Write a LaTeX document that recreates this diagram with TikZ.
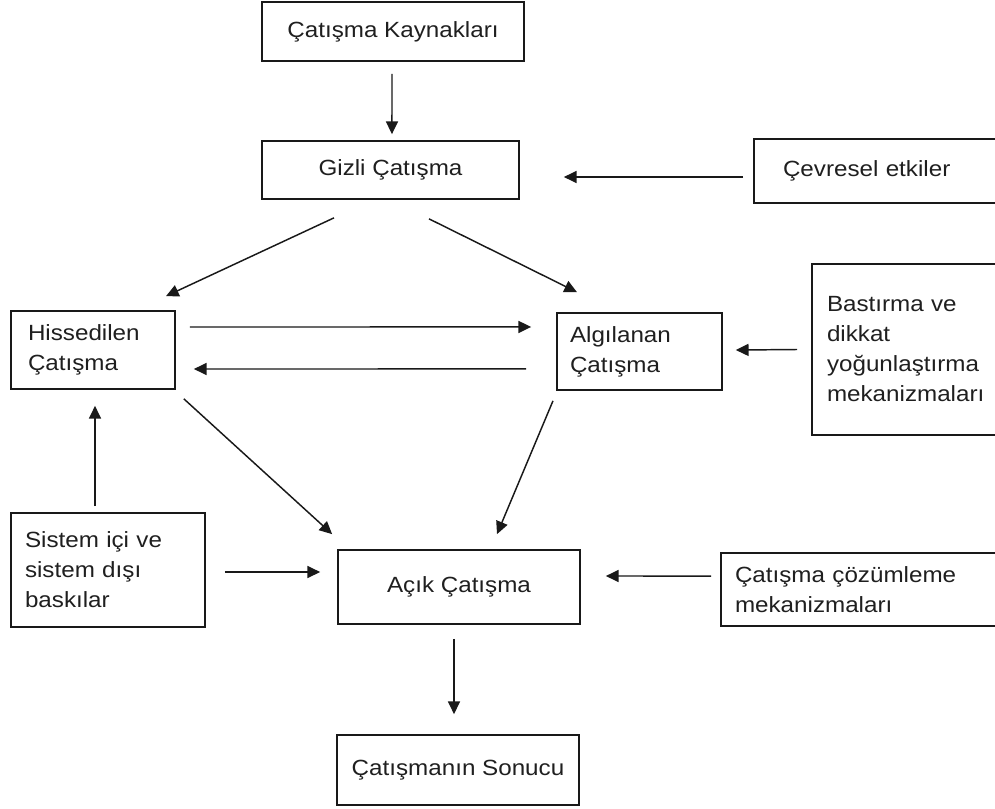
\documentclass[tikz,border=0pt]{standalone}
\usepackage{fontspec}
\usetikzlibrary{arrows.meta}
\newfontfamily\dfont[FakeStretch=1.1]{Liberation Sans}
\begin{document}
\begin{tikzpicture}[x=0.75pt,y=-0.75pt,
  box/.style={draw=black!90,line width=1.3pt,inner sep=0pt,text=black!88,
    font=\dfont\fontsize{16.5pt}{22.5pt}\selectfont,align=center},
  lbox/.style={box,align=left},
  arr/.style={draw=black!90,line width=1.1pt,-{Triangle[length=9.5pt,width=9pt]}}]
\useasboundingbox (0,0) rectangle (995,809);
\clip (0,0) rectangle (995,809);
% nodes
\node[box,minimum width=196.5pt,minimum height=44.25pt] (K) at (393,31.5) {Çatışma Kaynakları};
\node[box,minimum width=192.75pt,minimum height=43.5pt] (G) at (390.5,170) {Gizli Çatışma};
\node[lbox,text width=151.5pt,inner xsep=21.75pt,minimum height=48pt] (C) at (884,171) {Çevresel etkiler};
\node[lbox,text width=97.5pt,inner xsep=12.75pt,minimum height=58.5pt] (H) at (93,350) {Hissedilen\\Çatışma};
\node[lbox,text width=104.25pt,inner xsep=9.75pt,minimum height=57.75pt] (A) at (639.5,351.5) {Algılanan\\Çatışma};
\node[lbox,text width=127.5pt,inner xsep=11.25pt,minimum height=128.25pt] (B) at (912,349.5) {Bastırma ve\\dikkat\\yoğunlaştırma\\mekanizmaları};
\node[lbox,text width=124.5pt,inner xsep=10.5pt,minimum height=85.5pt] (S) at (108,570) {Sistem içi ve\\sistem dışı\\baskılar};
\node[box,minimum width=181.5pt,minimum height=55.5pt] (O) at (459,587) {Açık Çatışma};
\node[lbox,text width=197.25pt,inner xsep=10.5pt,minimum height=54.75pt] (R) at (866.5,589.5) {Çatışma çözümleme\\mekanizmaları};
\node[box,minimum width=181.5pt,minimum height=52.5pt] (N) at (458,770) {Çatışmanın Sonucu};
% connectors
\draw[arr] ([xshift=-0.75pt,yshift=-9pt]K.south) -- ([xshift=1.1pt,yshift=4.5pt]G.north);
\draw[arr] ([xshift=-7.5pt,yshift=-4.5pt]C.west) -- ([xshift=33pt,yshift=-5.25pt]G.east);
\draw[arr] ([xshift=-42.4pt,yshift=-13.5pt]G.south) -- ([xshift=54.75pt,yshift=10.5pt]H.north);
\draw[arr] ([xshift=28.9pt,yshift=-14.25pt]G.south) -- ([xshift=-46.9pt,yshift=15pt]A.north);
\draw[arr] ([xshift=10.5pt,yshift=17.25pt]H.east) -- ([xshift=-18.75pt,yshift=18.4pt]A.west);
\draw[arr] ([xshift=-22.5pt,yshift=-13.1pt]A.west) -- ([xshift=13.5pt,yshift=-14.25pt]H.east);
\draw[arr] ([xshift=-10.5pt]B.west) -- ([xshift=9.75pt,yshift=1.1pt]A.east);
\draw[arr] ([xshift=6pt,yshift=-6.75pt]H.south east) -- ([xshift=-3.75pt,yshift=11.25pt]O.north west);
\draw[arr] ([xshift=-64.9pt,yshift=-7.5pt]A.south) -- ([xshift=28.5pt,yshift=11.25pt]O.north);
\draw[arr] ([xshift=-9.75pt,yshift=4.5pt]S.north) -- ([xshift=1.5pt,yshift=-12pt]H.south);
\draw[arr] ([xshift=14.25pt,yshift=-1.5pt]S.east) -- ([xshift=-12.75pt,yshift=11.25pt]O.west);
\draw[arr] ([xshift=-6.75pt,yshift=10.1pt]R.west) -- ([xshift=18.75pt,yshift=8.25pt]O.east);
\draw[arr] ([xshift=-3.75pt,yshift=-10.5pt]O.south) -- ([xshift=-3pt,yshift=15pt]N.north);
\end{tikzpicture}
\end{document}
